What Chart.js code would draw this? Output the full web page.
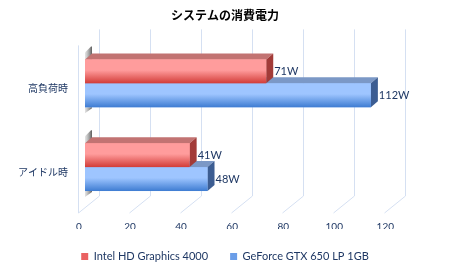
<!DOCTYPE html>
<html>
<head>
<meta charset="utf-8">
<script src="https://cdn.jsdelivr.net/npm/chart.js@4.4.0/dist/chart.umd.min.js"></script>
<style>
  html, body { margin: 0; padding: 0; background: #fff; }
  #wrap { width: 450px; height: 269px; }
</style>
</head>
<body>
<div id="wrap"><canvas id="chart" width="450" height="269"></canvas></div>
<script>
// data
var categories = ['高負荷時', 'アイドル時'];
var seriesNames = ['Intel HD Graphics 4000', 'GeForce GTX 650 LP 1GB'];
var intelValues = [71, 41];
var geforceValues = [112, 48];
var xTicks = [0, 20, 40, 60, 80, 100, 120];

var navy = '#1F3864';
var gridColor = '#D5E0F2';

// colours for each series: front top, front bottom, top face, side face
var faces = [
    { light: '#FF9C9C', dark: '#D23C38', top: '#C27372', side: '#A23B38', legend: '#EA6262' },
    { light: '#9EC5FF', dark: '#3E7CD2', top: '#7B98C6', side: '#3C5D92', legend: '#6B9EE8' }
];
var depthX = 7, depthY = 6;

// back grid with floor diagonals, and the grey shadow left of bars
var backdrop = {
    id: 'backdrop',
    beforeDatasetsDraw: function (chart) {
        var c = chart.ctx, a = chart.chartArea, xs = chart.scales.x;
        c.save();
        c.strokeStyle = gridColor;
        c.lineWidth = 1;
        xTicks.forEach(function (v) {
            var x = Math.round(xs.getPixelForValue(v)) + 0.5;
            c.beginPath();
            c.moveTo(x + 14, a.top - 12);
            c.lineTo(x + 14, a.bottom - 13);
            c.lineTo(x - 7, a.bottom + 4);
            c.stroke();
        });
        var x0 = Math.round(xs.getPixelForValue(0)) + 0.5;
        c.beginPath();
        c.moveTo(x0 - 7, a.top + 4);
        c.lineTo(x0 - 7, a.bottom + 4);
        c.stroke();

        // shadows
        var red = chart.getDatasetMeta(0).data, blue = chart.getDatasetMeta(1).data;
        for (var i = 0; i < red.length; i++) {
            var left = red[i].base;
            var top = red[i].y - red[i].height / 2;
            var bottom = blue[i].y + blue[i].height / 2;
            var g = c.createLinearGradient(left, 0, left + depthX, 0);
            g.addColorStop(0, 'rgba(200,200,200,0.5)');
            g.addColorStop(1, 'rgba(85,85,85,0.95)');
            c.fillStyle = g;
            c.beginPath();
            c.moveTo(left, top);
            c.lineTo(left, top - 7);
            c.lineTo(left + depthX - 1, top - 13);
            c.lineTo(left + depthX, top - 13);
            c.lineTo(left + depthX, top);
            c.closePath();
            c.fill();
            c.beginPath();
            c.moveTo(left, bottom);
            c.lineTo(left + depthX, bottom);
            c.lineTo(left + depthX, bottom + 1);
            c.lineTo(left, bottom + 6);
            c.closePath();
            c.fill();
        }
        c.restore();
    }
};

// 3d faces on top of the library bars, then the value labels
var bars3d = {
    id: 'bars3d',
    afterDatasetsDraw: function (chart) {
        var c = chart.ctx;
        c.save();
        for (var d = chart.data.datasets.length - 1; d >= 0; d--) {
            var f = faces[d];
            chart.getDatasetMeta(d).data.forEach(function (el) {
                var x0 = el.base, x1 = el.x;
                var t = el.y - el.height / 2, b = el.y + el.height / 2;
                // top face
                c.fillStyle = f.top;
                c.beginPath();
                c.moveTo(x0, t);
                c.lineTo(x0 + depthX, t - depthY);
                c.lineTo(x1 + depthX, t - depthY);
                c.lineTo(x1, t);
                c.closePath();
                c.fill();
                // side face
                c.fillStyle = f.side;
                c.beginPath();
                c.moveTo(x1, t);
                c.lineTo(x1 + depthX, t - depthY);
                c.lineTo(x1 + depthX, b - depthY);
                c.lineTo(x1, b);
                c.closePath();
                c.fill();
                // front face
                var g = c.createLinearGradient(0, t, 0, b);
                g.addColorStop(0, f.light);
                g.addColorStop(0.45, f.light);
                g.addColorStop(1, f.dark);
                c.fillStyle = g;
                c.fillRect(x0, t, x1 - x0, b - t);
            });
        }
        c.font = '11px Lato';
        c.fillStyle = navy;
        c.textBaseline = 'middle';
        c.textAlign = 'left';
        chart.data.datasets.forEach(function (ds, d) {
            chart.getDatasetMeta(d).data.forEach(function (el, i) {
                c.fillText(ds.data[i] + 'W', el.x + depthX + 1, el.y);
            });
        });
        c.restore();
    }
};

var ctx = document.getElementById('chart').getContext('2d');
var chart = new Chart(ctx, {
    type: 'bar',
    data: {
        labels: categories,
        datasets: [{
            label: seriesNames[0],
            data: intelValues,
            backgroundColor: faces[0].legend
        }, {
            label: seriesNames[1],
            data: geforceValues,
            backgroundColor: faces[1].legend
        }]
    },
    options: {
        indexAxis: 'y',
        responsive: false,
        animation: false,
        barPercentage: 1,
        categoryPercentage: 0.571,
        layout: { padding: 0 },
        scales: {
            x: {
                min: 0,
                max: 143,
                grid: { display: false, drawTicks: false },
                border: { display: false },
                ticks: {
                    padding: 12,
                    labelOffset: -6,
                    color: navy,
                    font: { family: 'Lato', size: 10 }
                },
                afterBuildTicks: function (s) {
                    s.ticks = xTicks.map(function (v) { return { value: v }; });
                },
                afterFit: function (s) { s.height = 20; }
            },
            y: {
                grid: { display: false, drawTicks: false },
                border: { display: false },
                ticks: {
                    padding: 17,
                    labelOffset: 5,
                    color: navy,
                    font: { family: 'Noto Sans CJK JP', size: 10 }
                },
                afterFit: function (s) { s.width = 85; }
            }
        },
        plugins: {
            title: {
                display: true,
                text: 'システムの消費電力',
                color: '#000',
                font: { family: 'Noto Sans CJK JP', size: 12, weight: 'bold' },
                padding: { top: 8, bottom: 19 }
            },
            legend: {
                position: 'bottom',
                maxHeight: 40,
                labels: {
                    boxWidth: 7,
                    boxHeight: 7,
                    padding: 22,
                    color: navy,
                    font: { family: 'Lato', size: 11 },
                    generateLabels: function (ch) {
                        return ch.data.datasets.map(function (ds, i) {
                            return {
                                text: ds.label,
                                fillStyle: faces[i].legend,
                                strokeStyle: faces[i].legend,
                                lineWidth: 0,
                                fontColor: navy,
                                datasetIndex: i
                            };
                        });
                    }
                }
            },
            tooltip: { enabled: false }
        }
    },
    plugins: [backdrop, bars3d]
});
</script>
</body>
</html>
